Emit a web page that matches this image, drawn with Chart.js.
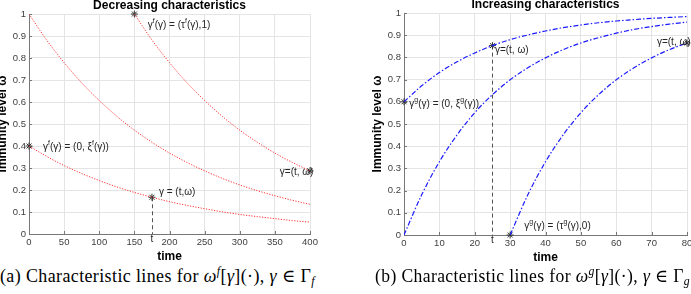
<!DOCTYPE html>
<html><head><meta charset="utf-8">
<script src="https://cdn.jsdelivr.net/npm/chart.js@4.4.1/dist/chart.umd.min.js"></script>
<style>
html,body{margin:0;padding:0;background:#fff;overflow:hidden;width:691px;height:294px;}
#wrap{position:relative;width:691px;height:294px;overflow:hidden;background:#fff}
canvas{position:absolute}
.cap{position:absolute;top:266px;font-family:"Liberation Serif","DejaVu Serif",serif;font-size:18px;letter-spacing:0.4px;line-height:20px;white-space:nowrap;color:#000;transform-origin:0 0}
.cap i{font-style:italic}
.sup{font-size:12px;vertical-align:7px;line-height:0;font-style:italic}
.sub{font-size:12px;vertical-align:-3px;line-height:0;font-style:italic}
</style></head><body>
<div id="wrap">
<canvas id="c1" width="328" height="264" style="left:-3px;top:0"></canvas>
<canvas id="c2" width="330" height="266" style="left:372px;top:-1px"></canvas>
<div class="cap" id="capA">(a) Characteristic lines for <i>ω</i><span class="sup">f</span>[<i>γ</i>](·), <i>γ</i> ∈ Γ<span class="sub">f</span></div>
<div class="cap" id="capB">(b) Characteristic lines for <i>ω</i><span class="sup">g</span>[<i>γ</i>](·), <i>γ</i> ∈ Γ<span class="sub">g</span></div>
</div>
<script>
// ---------- data ----------
const yTicks = [0,0.1,0.2,0.3,0.4,0.5,0.6,0.7,0.8,0.9,1];
const decXTicks = [0,50,100,150,200,250,300,350,400];
const incXTicks = [0,10,20,30,40,50,60,70,80];

const decTime = [0,25,50,75,100,125,150,175,200,225,250,275,300,325,350,375,400];
const decHigh = [1.000,0.882,0.779,0.687,0.607,0.535,0.472,0.417,0.368,0.325,0.287,0.253,0.223,0.197,0.174,0.153,0.135];
const decLow  = [0.400,0.353,0.311,0.275,0.243,0.214,0.189,0.167,0.147,0.130,0.115,0.101,0.089,0.079,0.070,0.061,0.054];
const decLateTime = [150,175,200,225,250,275,300,325,350,375,400];
const decLate     = [1.000,0.882,0.779,0.687,0.607,0.535,0.472,0.417,0.368,0.325,0.287];
const decMarkT = [150,0,175,400];
const decMarkW = [1.0,0.40,0.167,0.287];

const incTime = [0,5,10,15,20,25,30,35,40,45,50,55,60,65,70,75,80];
const incHigh = [0.600,0.672,0.732,0.780,0.820,0.853,0.880,0.901,0.919,0.934,0.946,0.956,0.964,0.970,0.976,0.980,0.984];
const incMid  = [0.000,0.181,0.330,0.451,0.551,0.632,0.699,0.753,0.798,0.835,0.865,0.889,0.909,0.926,0.939,0.950,0.959];
const incLateTime = [30,35,40,45,50,55,60,65,70,75,80];
const incLate     = [0.000,0.181,0.330,0.451,0.551,0.632,0.699,0.753,0.798,0.835,0.865];
const incMarkT = [25,0,80,30];
const incMarkW = [0.853,0.60,0.865,0.0];

const decTitle = 'Decreasing characteristics';
const incTitle = 'Increasing characteristics';
const yTitle = 'Immunity level ω';
const xTitle = 'time';
const decNotes = [
  {t:169, w:0.95, s:'γ^f(γ) = (τ^f(γ),1)'},
  {t:20, w:0.395, s:'γ^f(γ) = (0, ξ^f(γ))'},
  {t:185, w:0.19, s:'γ = (t,ω)'},
  {t:357, w:0.28, s:'γ=(t, ω)'}
];
const incNotes = [
  {t:25.7, w:0.83, s:'γ=(t, ω)'},
  {t:1.5, w:0.59, s:'γ^g(γ) = (0, ξ^g(γ))'},
  {t:71.5, w:0.87, s:'γ=(t, ω)'},
  {t:34, w:0.04, s:'γ^g(γ) = (τ^g(γ),0)'}
];
const decGuide = {t:175, w:0.167, label:'t'};
const incGuide = {t:25, w:0.853, label:'t'};

// ---------- drawing ----------
Chart.defaults.font.family = '"Liberation Sans", Arial, Helvetica, sans-serif';
Chart.defaults.devicePixelRatio = 1;

const zip = (xs, ys) => xs.map((x,i)=>({x:x, y:ys[i]}));

function drawRich(ctx, str, x, y){
  let cx = x;
  for (let i=0;i<str.length;i++){
    let ch = str[i], sup=false;
    if (ch==='^'){ sup=true; ch=str[++i]; }
    ctx.font = sup ? '7px "Liberation Sans", Arial, sans-serif' : '10px "Liberation Sans", Arial, sans-serif';
    ctx.fillText(ch, cx, sup ? y-4 : y);
    cx += ctx.measureText(ch).width;
  }
}

const annotPlugin = {
  id:'annot',
  beforeDatasetsDraw(chart, args, o){
    const {ctx, chartArea:a, scales:{x,y}} = chart;
    ctx.save();
    ctx.strokeStyle='#777'; ctx.lineWidth=1;
    ctx.beginPath();
    x.ticks.forEach(tk=>{ const px=Math.round(x.getPixelForValue(tk.value))+0.5; ctx.moveTo(px,a.bottom); ctx.lineTo(px,a.bottom-3); });
    y.ticks.forEach(tk=>{ const py=Math.round(y.getPixelForValue(tk.value))+0.5; ctx.moveTo(a.left,py); ctx.lineTo(a.left+3,py); });
    ctx.stroke();
    ctx.setLineDash([4,3]); ctx.strokeStyle='#555';
    const gx = Math.round(x.getPixelForValue(o.guide.t))+0.5;
    ctx.beginPath(); ctx.moveTo(gx, y.getPixelForValue(o.guide.w)); ctx.lineTo(gx, y.getPixelForValue(0)); ctx.stroke();
    ctx.restore();
  },
  afterDatasetsDraw(chart, args, o){
    const {ctx, chartArea:a, scales:{x,y}} = chart;
    ctx.save();
    ctx.fillStyle='#262626'; ctx.textBaseline='middle'; ctx.textAlign='left';
    o.notes.forEach(n=>drawRich(ctx, n.s, x.getPixelForValue(n.t), y.getPixelForValue(n.w)));
    ctx.textAlign='center';
    ctx.font='10px "Liberation Sans", Arial, sans-serif';
    ctx.fillText(o.guide.label, x.getPixelForValue(o.guide.t), a.bottom+5);
    ctx.fillStyle='#000';
    ctx.font='bold 12px "Liberation Sans", Arial, sans-serif';
    ctx.fillText(o.title, (a.left+a.right)/2, 6);
    ctx.restore();
  }
};

function makeChart(id, datasets, xTicks, xMax, notes, guide, title){
  return new Chart(document.getElementById(id), {
    type:'line',
    data:{datasets},
    plugins:[annotPlugin],
    options:{
      responsive:false, animation:false, devicePixelRatio:1,
      layout:{padding:{top:14,right:15,left:0,bottom:0}},
      plugins:{legend:{display:false}, tooltip:{enabled:false}, title:{display:false},
        annot:{notes, guide, title}},
      scales:{
        x:{type:'linear', min:0, max:xMax,
          afterBuildTicks:s=>{s.ticks = xTicks.map(v=>({value:v}));},
          afterFit:s=>{s.height=30;},
          grid:{color:'#e4e4e4', drawTicks:false},
          border:{color:'#777'},
          ticks:{padding:3, color:'#404040', font:{size:9.5}, maxRotation:0, autoSkip:false},
          title:{display:true, text:xTitle, color:'#000', font:{size:12, weight:'bold'}, padding:{top:0,bottom:0}}},
        y:{type:'linear', min:0, max:1,
          afterBuildTicks:s=>{s.ticks = yTicks.map(v=>({value:v}));},
          afterFit:s=>{s.width=32;},
          grid:{color:'#e4e4e4', drawTicks:false},
          border:{color:'#777'},
          ticks:{padding:3, color:'#404040', font:{size:9.5}, autoSkip:false, callback:v=>String(v)},
          title:{display:true, text:yTitle, color:'#000', font:{size:12, weight:'bold', lineHeight:1.0}, padding:{top:0,bottom:0}}}
      }
    }
  });
}

const redLine = d => ({data:d, borderColor:'#ff3030', borderWidth:1, borderDash:[1.2,1.5], pointRadius:0, cubicInterpolationMode:'monotone', fill:false});
const blueLine = d => ({data:d, borderColor:'#1a1aff', borderWidth:1.2, borderDash:[5,2,1.5,2], pointRadius:0, cubicInterpolationMode:'monotone', fill:false});
const marks = d => ({data:d, showLine:false, pointStyle:'star', pointRadius:3.5, borderColor:'#333', backgroundColor:'#333', pointBorderWidth:1, clip:false});

makeChart('c1', [
  redLine(zip(decTime, decHigh)),
  redLine(zip(decTime, decLow)),
  redLine(zip(decLateTime, decLate)),
  marks(zip(decMarkT, decMarkW))
], decXTicks, 400, decNotes, decGuide, decTitle);

makeChart('c2', [
  blueLine(zip(incTime, incHigh)),
  blueLine(zip(incTime, incMid)),
  blueLine(zip(incLateTime, incLate)),
  marks(zip(incMarkT, incMarkW))
], incXTicks, 80, incNotes, incGuide, incTitle);

function fitCap(id, left, width){
  const el = document.getElementById(id);
  el.style.left = left+'px';
  const w = el.getBoundingClientRect().width;
  el.style.transform = 'scaleX('+(width/w)+')';
}
fitCap('capA', 0, 315);
fitCap('capB', 375, 315);
</script>
</body></html>
